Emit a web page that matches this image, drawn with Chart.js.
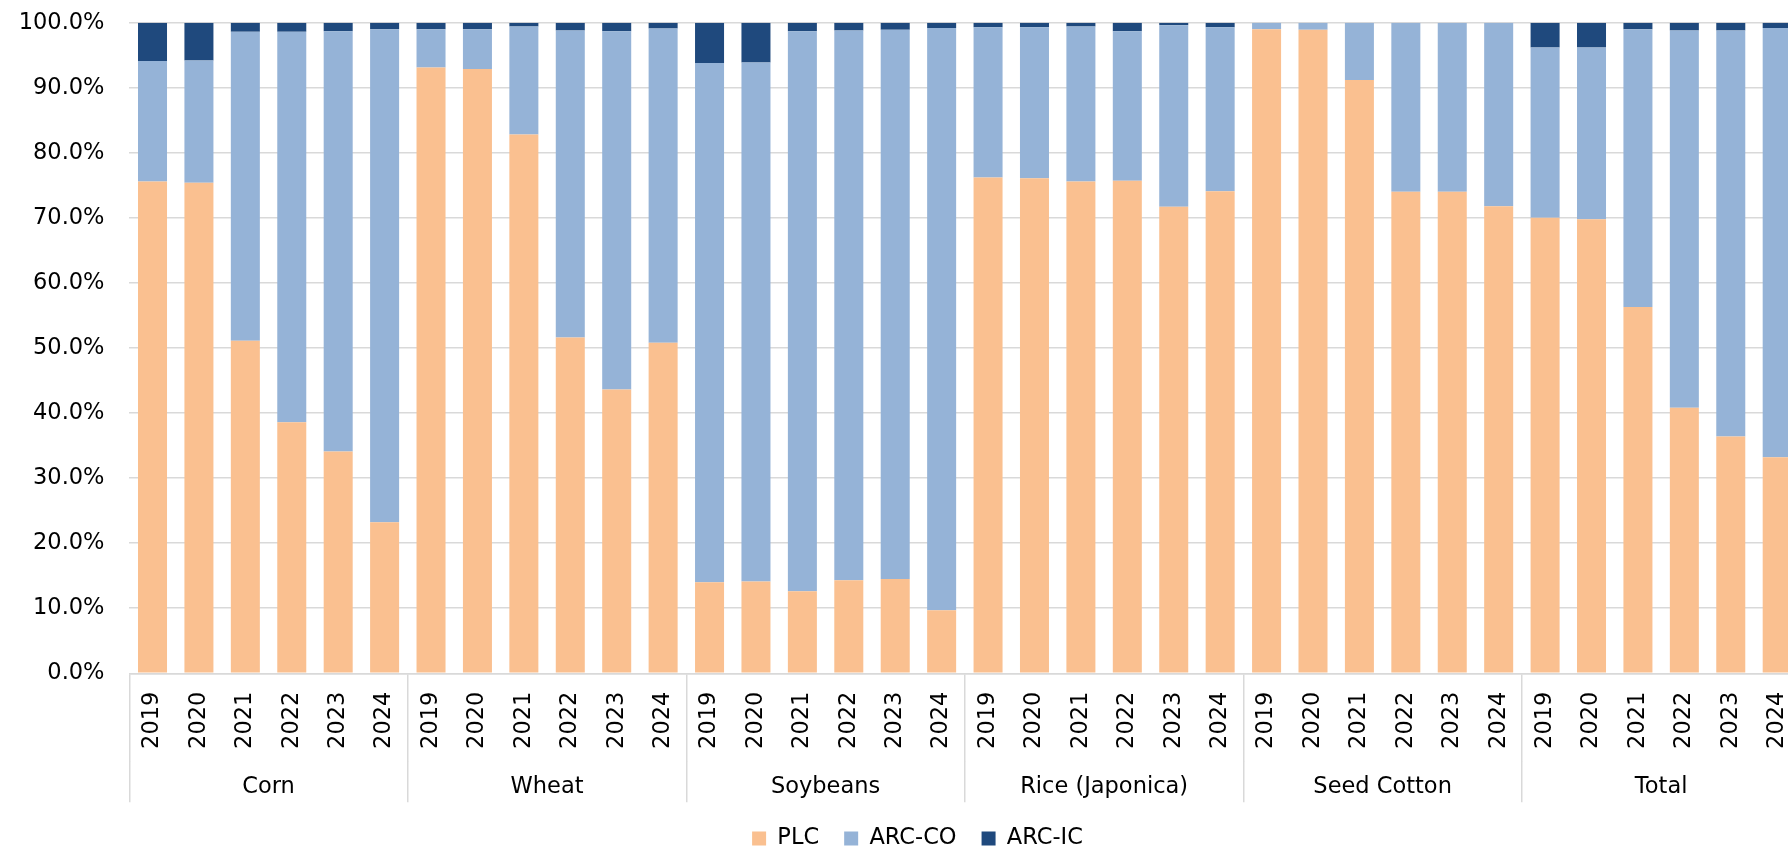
<!DOCTYPE html>
<html>
<head>
<meta charset="utf-8">
<script src="https://cdn.jsdelivr.net/npm/chart.js@4.4.1/dist/chart.umd.min.js"></script>
<style>
html,body{margin:0;padding:0;overflow:hidden;background:#fff;width:1788px;height:850px}
#wrap{position:relative;width:1840px;height:850px}
canvas{display:block}
</style>
</head>
<body>
<div id="wrap"><canvas id="c" width="1840" height="850" style="width:1840px;height:850px"></canvas></div>
<script>
// ---- data ----
const groups = ['Corn', 'Wheat', 'Soybeans', 'Rice (Japonica)', 'Seed Cotton', 'Total'];
const years = ['2019', '2020', '2021', '2022', '2023', '2024'];

const plc = [
  75.6, 75.4, 51.1, 38.6, 34.1, 23.2,   // Corn
  93.1, 92.9, 82.8, 51.6, 43.6, 50.8,   // Wheat
  14.0, 14.1, 12.6, 14.3, 14.5, 9.7,    // Soybeans
  76.2, 76.1, 75.6, 75.7, 71.7, 74.1,   // Rice (Japonica)
  99.0, 98.9, 91.2, 74.0, 74.0, 71.8,   // Seed Cotton
  70.0, 69.8, 56.3, 40.8, 36.4, 33.2    // Total
];
const arcCo = [
  18.5, 18.8, 47.5, 60.0, 64.6, 75.8,
  5.9, 6.1, 16.6, 47.2, 55.1, 48.3,
  79.8, 79.8, 86.1, 84.5, 84.4, 89.5,
  23.1, 23.2, 23.8, 23.0, 27.9, 25.2,
  1.0, 1.1, 8.8, 26.0, 26.0, 28.2,
  26.2, 26.4, 42.7, 58.0, 62.4, 66.0
];
const arcIc = [
  5.9, 5.8, 1.4, 1.4, 1.3, 1.0,
  1.0, 1.0, 0.6, 1.2, 1.3, 0.9,
  6.2, 6.1, 1.3, 1.2, 1.1, 0.8,
  0.7, 0.7, 0.6, 1.3, 0.4, 0.7,
  0.0, 0.0, 0.0, 0.0, 0.0, 0.0,
  3.8, 3.8, 1.0, 1.2, 1.2, 0.8
];
const yearLabels = [];
groups.forEach(() => years.forEach(y => yearLabels.push(y)));

// ---- chart ----
const FONT = "'DejaVu Sans', Verdana, sans-serif";
Chart.defaults.font.family = FONT;
Chart.defaults.font.size = 22.5;
Chart.defaults.color = '#000';

const GRID = '#d9d9d9';
const CLEAR = 'rgba(0,0,0,0)';
const groupSize = years.length;

new Chart(document.getElementById('c'), {
  type: 'bar',
  data: {
    labels: yearLabels,
    datasets: [
      { label: 'PLC', data: plc, backgroundColor: '#FAC090' },
      { label: 'ARC-CO', data: arcCo, backgroundColor: '#95B3D7' },
      { label: 'ARC-IC', data: arcIc, backgroundColor: '#1F497D' }
    ]
  },
  options: {
    responsive: false,
    animation: false,
    devicePixelRatio: 1,
    layout: { padding: { top: 22.7, left: 0, right: 5, bottom: -9.75 } },
    datasets: { bar: { categoryPercentage: 1, barPercentage: 0.625 } },
    plugins: {
      legend: {
        position: 'bottom',
        labels: { boxWidth: 14, boxHeight: 14, padding: 25, font: { size: 22.5 }, color: '#000' }
      },
      tooltip: { enabled: false }
    },
    scales: {
      y: {
        stacked: true, min: 0, max: 100,
        ticks: { stepSize: 10, padding: 0, callback: v => v.toFixed(1) + '%' },
        grid: { color: GRID, lineWidth: 1.5, drawTicks: true, tickLength: 24.8, tickColor: CLEAR },
        border: { display: false },
        afterFit(s) { s.width = 129.3; }
      },
      yPad: {
        position: 'right',
        display: true,
        ticks: { display: false },
        grid: { display: false, drawOnChartArea: false, drawTicks: false },
        border: { display: false },
        afterFit(s) { s.width = 34.6; }
      },
      x: {
        stacked: true,
        weight: 0,
        ticks: { maxRotation: 90, minRotation: 90, padding: -69.6, autoSkip: false },
        grid: {
          offset: true, drawOnChartArea: false, drawTicks: true, tickLength: 88,
          color: c => (c.index % groupSize === 0 ? GRID : CLEAR),
          lineWidth: 1.5
        },
        border: { display: true, color: GRID, width: 1.5 },
        afterFit(s) { s.height = 88; }
      },
      x2: {
        type: 'category',
        labels: groups,
        position: 'bottom',
        weight: 1,
        offset: true,
        ticks: { padding: -29, autoSkip: false, maxRotation: 0 },
        grid: { offset: true, drawOnChartArea: false, drawTicks: true, tickLength: 41, color: GRID, lineWidth: 1.5 },
        border: { display: false },
        afterFit(s) { s.height = 41; }
      }
    }
  }
});
</script>
</body>
</html>
